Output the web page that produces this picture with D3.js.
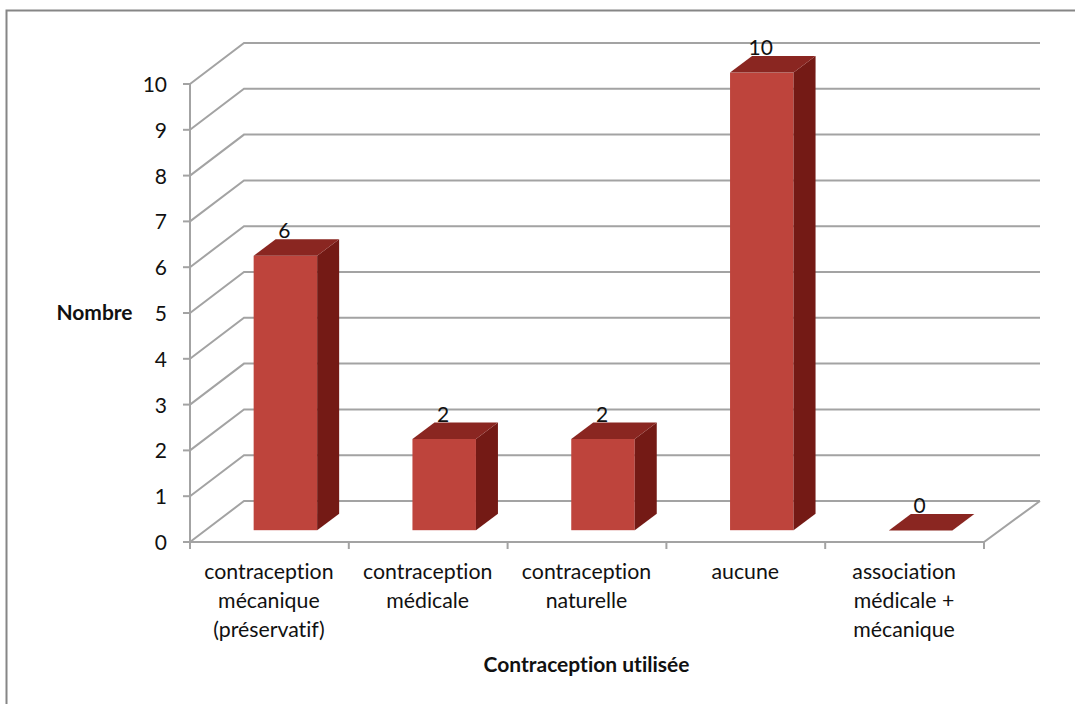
<!DOCTYPE html>
<html><head><meta charset="utf-8">
<script src="https://cdn.jsdelivr.net/npm/d3@7/dist/d3.min.js"></script>
<style>html,body{margin:0;background:#fff}svg{display:block}text{font-family:Lato,"Noto Sans",sans-serif;fill:#111;font-variant-ligatures:none}</style>
</head><body><svg id="c" width="1075" height="704"></svg>
<script>
const categories=["contraception mécanique (préservatif)","contraception médicale","contraception naturelle","aucune","association médicale + mécanique"];
const categoryLines=[["contraception","mécanique","(préservatif)"],["contraception","médicale"],["contraception","naturelle"],["aucune"],["association","médicale +","mécanique"]];
const values=[6,2,2,10,0];
const yTicks=[0,1,2,3,4,5,6,7,8,9,10];
const xTitle="Contraception utilisée", yTitle="Nombre";

const svg=d3.select("#c");
const x0=190,x1=984,depthX=54,depthY=41;
const y=d3.scaleLinear().domain([0,10]).range([542,84]);
const x=d3.scaleBand().domain(categories).range([x0,x1]);
const grid="#a3a3a3",frame="#868686";

svg.append("path").attr("d","M6.5,704V10.5H1075").attr("fill","none").attr("stroke",frame).attr("stroke-width",2);

const g=svg.append("g").attr("fill","none").attr("stroke",grid).attr("stroke-width",2);
g.selectAll("path.g").data(yTicks).join("path").attr("class","g")
 .attr("d",t=>`M${x0},${y(t)}L${x0+depthX},${y(t)-depthY}H${x1+depthX+2}`);
g.append("path").attr("d",`M${x0},${y(10)}V${y(0)}H${x1}L${x1+depthX+2},${y(0)-depthY}`);
g.selectAll("path.yt").data(yTicks).join("path").attr("class","yt").attr("d",t=>`M${x0-7},${y(t)}H${x0}`);
g.selectAll("path.xt").data(d3.range(6)).join("path").attr("class","xt")
 .attr("d",i=>`M${x0+i*x.step()},${y(0)}v7`);

svg.selectAll("text.yl").data(yTicks).join("text").attr("class","yl")
 .attr("x",167).attr("y",t=>y(t)+8).attr("text-anchor","end").attr("font-size",21).text(d=>d);

// bars
const barW=63.5,dx=22,dy=16.5,base=11.8,off=16;
const unit=y(0)-y(1);
const bars=svg.selectAll("g.b").data(categories.map((c,i)=>({c,v:values[i]}))).join("g").attr("class","b");
const L=d=>x(d.c)+x.bandwidth()/2-barW/2+off;
const B=y(0)-base;
const T=d=>B-d.v*unit+0.4;
bars.filter(d=>d.v>0).append("rect").attr("x",L).attr("y",T).attr("width",barW).attr("height",d=>B-T(d)).attr("fill","#be443c");
bars.filter(d=>d.v>0).append("path").attr("fill","#741a15")
 .attr("d",d=>`M${L(d)+barW},${T(d)}l${dx},${-dy}V${B-dy}l${-dx},${dy}Z`);
bars.append("path").attr("fill","#8a2621")
 .attr("d",d=>`M${L(d)},${T(d)}l${dx},${-dy}h${barW}l${-dx},${dy}Z`);
bars.append("text").attr("x",d=>L(d)+barW/2-1).attr("y",d=>T(d)-17.5)
 .attr("text-anchor","middle").attr("font-size",21).text(d=>d.v);

// category labels
categoryLines.forEach((ls,i)=>{
  const t=svg.append("text").attr("text-anchor","middle").attr("font-size",21.3);
  ls.forEach((l,j)=>t.append("tspan").attr("x",x(categories[i])+x.bandwidth()/2-0.5).attr("y",578.5+j*29).text(l));
});
svg.append("text").attr("x",586.5).attr("y",672).attr("text-anchor","middle").attr("font-size",21).attr("font-weight",700).text(xTitle);
svg.append("text").attr("x",94.5).attr("y",320).attr("text-anchor","middle").attr("font-size",21).attr("font-weight",700).text(yTitle);
</script></body></html>
